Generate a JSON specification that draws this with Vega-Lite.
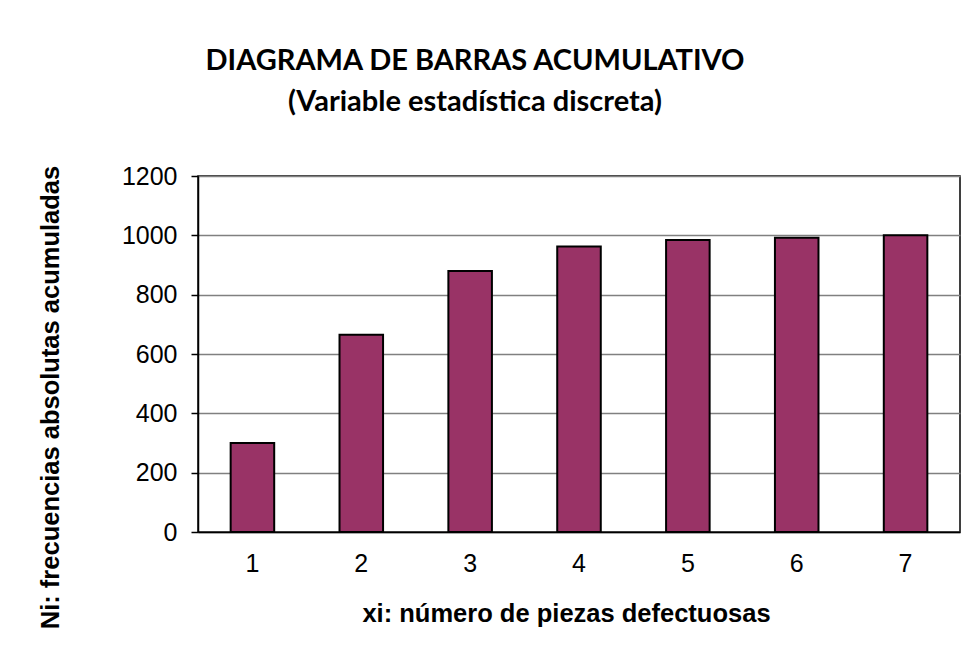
{
  "$schema": "https://vega.github.io/schema/vega-lite/v6.json",
  "autosize": {"type": "none"},
  "width": 762,
  "height": 356,
  "padding": {"left": 198, "top": 176, "right": 8, "bottom": 118},
  "background": "white",
  "data": {
    "values": [
      {"xi": "1", "Ni": 300},
      {"xi": "2", "Ni": 665},
      {"xi": "3", "Ni": 880},
      {"xi": "4", "Ni": 962},
      {"xi": "5", "Ni": 984},
      {"xi": "6", "Ni": 992},
      {"xi": "7", "Ni": 1000}
    ]
  },
  "title": {
    "text": ["DIAGRAMA DE BARRAS ACUMULATIVO", "(Variable estadística discreta)"],
    "font": "Lato",
    "fontWeight": "bold",
    "fontSize": 29,
    "lineHeight": 41,
    "color": "black",
    "anchor": "middle",
    "frame": "group",
    "dx": -104,
    "offset": 47
  },
  "mark": {"type": "bar", "color": "#993366", "stroke": "black", "strokeWidth": 2},
  "encoding": {
    "x": {
      "field": "xi",
      "type": "ordinal",
      "sort": null,
      "scale": {"paddingInner": 0.6, "paddingOuter": 0.3},
      "axis": {
        "title": "xi: número de piezas defectuosas",
        "titleFont": "Liberation Sans",
        "titleFontWeight": "bold",
        "titleFontSize": 25.5,
        "titleColor": "black",
        "titleX": 368,
        "titleY": 81,
        "titleAlign": "center",
        "titleBaseline": "middle",
        "labelFont": "Liberation Sans",
        "labelFontSize": 25,
        "labelColor": "black",
        "labelAngle": 0,
        "labelPadding": 19,
        "ticks": false,
        "domainColor": "black",
        "domainWidth": 1.5
      }
    },
    "y": {
      "field": "Ni",
      "type": "quantitative",
      "scale": {"domain": [0, 1200]},
      "axis": {
        "title": "Ni: frecuencias absolutas acumuladas",
        "titleFont": "Liberation Sans",
        "titleFontWeight": "bold",
        "titleFontSize": 25.5,
        "titleColor": "black",
        "titleX": -148,
        "titleY": 221,
        "titleAngle": 270,
        "titleAlign": "center",
        "titleBaseline": "middle",
        "values": [0, 200, 400, 600, 800, 1000, 1200],
        "format": "d",
        "labelFont": "Liberation Sans",
        "labelFontSize": 25,
        "labelColor": "black",
        "labelPadding": 14,
        "tickColor": "black",
        "tickSize": 7,
        "tickWidth": 1.5,
        "domainColor": "black",
        "domainWidth": 1.5,
        "gridColor": "#808080",
        "gridWidth": 1.5
      }
    }
  },
  "config": {
    "view": {"stroke": "black", "strokeWidth": 1.5}
  }
}
